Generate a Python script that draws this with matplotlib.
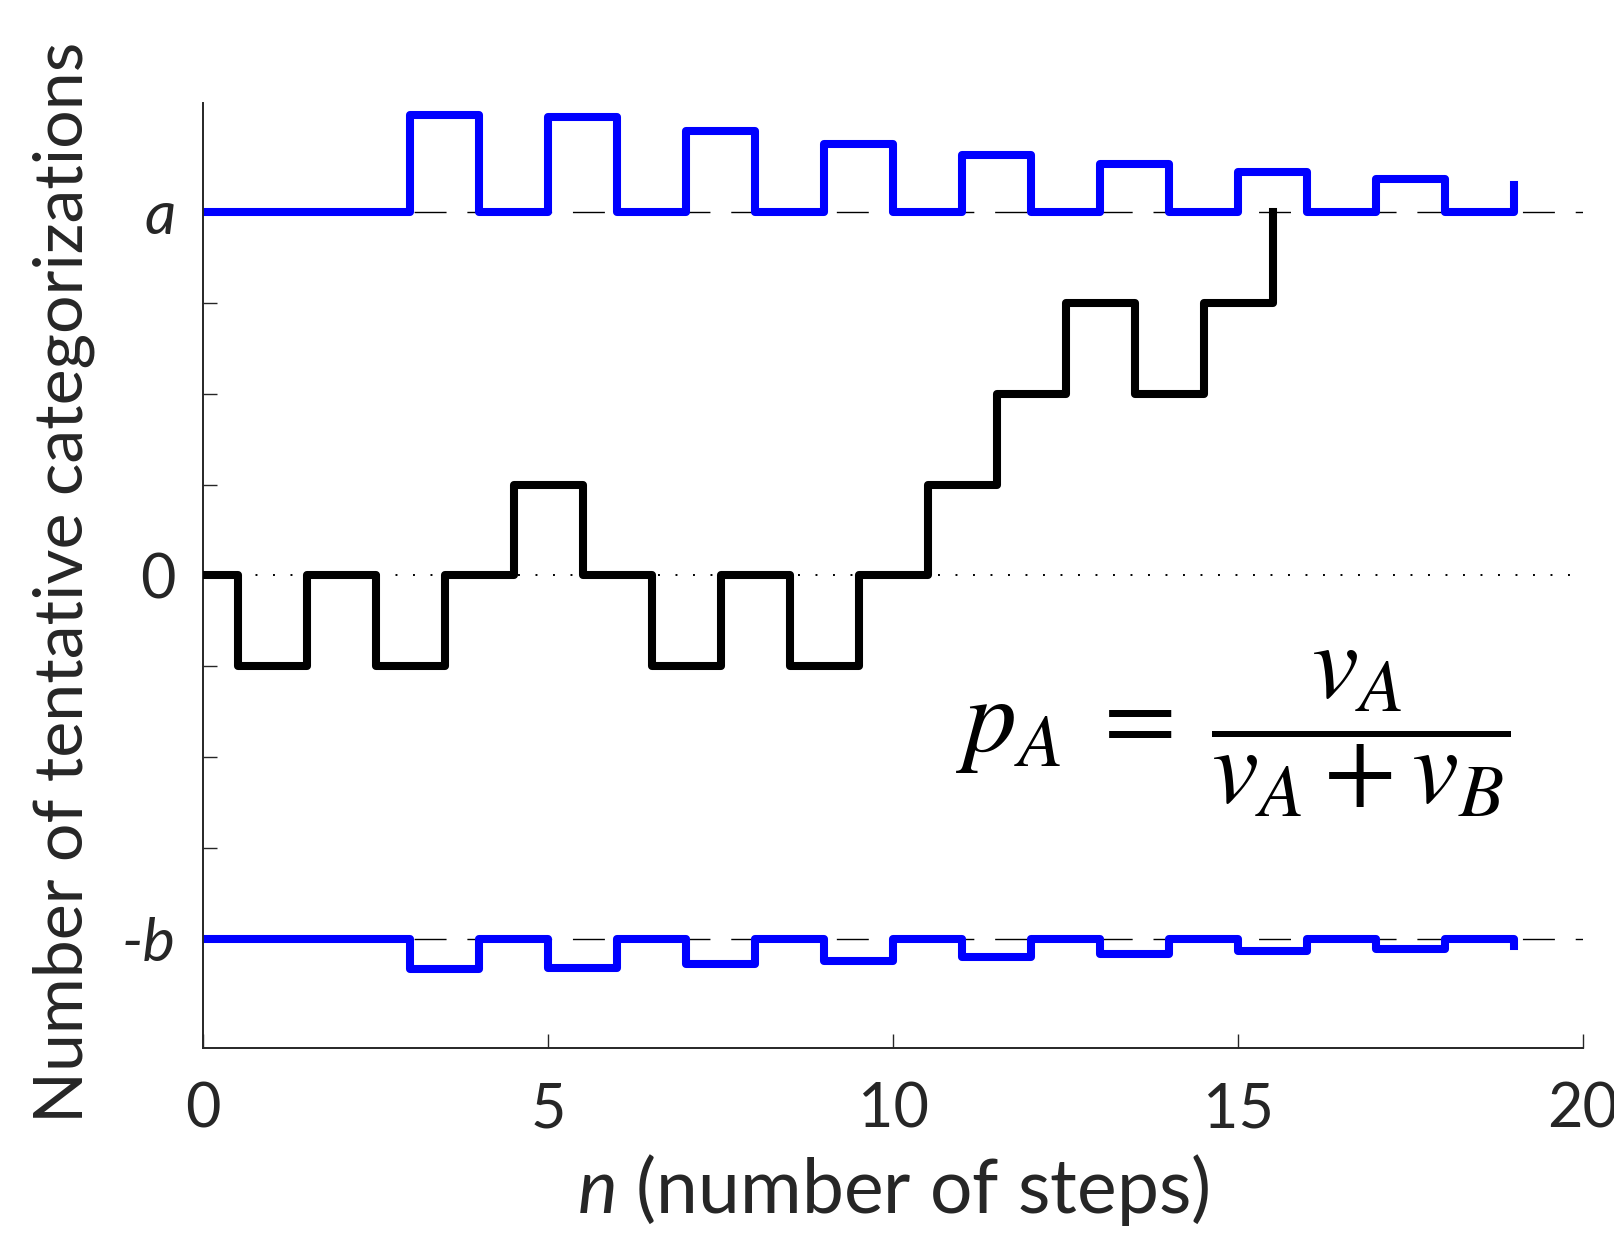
import numpy as np
import matplotlib
matplotlib.use("Agg")
from matplotlib import pyplot as plt

# step positions (n) and levels
n_walk = [0, 0.5, 1.5, 2.5, 3.5, 4.5, 5.5, 6.5, 7.5, 8.5, 9.5, 10.5, 11.5, 12.5, 13.5, 14.5, 15.5]
walk = [0, -1, 0, -1, 0, 1, 0, -1, 0, -1, 0, 1, 2, 3, 2, 3, 4]

n_bound = [0, 3, 4, 5, 6, 7, 8, 9, 10, 11, 12, 13, 14, 15, 16, 17, 18, 19]
upper = [4, 5.07, 4, 5.04, 4, 4.89, 4, 4.75, 4, 4.63, 4, 4.53, 4, 4.44, 4, 4.36, 4, 4.30]
lower = [-4, -4.33, -4, -4.32, -4, -4.28, -4, -4.24, -4, -4.20, -4, -4.17, -4, -4.14, -4, -4.11, -4, -4.08]

a, b = 4, 4
ytick_pos = [-4, -3, -2, -1, 0, 1, 2, 3, 4]
ytick_lab = ['-b', '', '', '', '0', '', '', '', 'a']
xtick_pos = [0, 5, 10, 15, 20]

plt.rcParams['font.family'] = ['Lato', 'DejaVu Sans']
plt.rcParams['mathtext.fontset'] = 'custom'
plt.rcParams['mathtext.rm'] = 'Lato'
plt.rcParams['mathtext.it'] = 'Lato:italic'

grey = '#262626'
fig = plt.figure(figsize=(16.15, 12.4), dpi=100)
ax = fig.add_axes([0.1257, 0.155, 0.8545, 0.762])

ax.axhline(a, color='k', lw=1.0, dashes=(23, 15), zorder=1)
ax.axhline(-b, color='k', lw=1.0, dashes=(23, 15), zorder=1)
ax.axhline(0, color='k', lw=1.4, dashes=(1, 8), zorder=1)

ax.step(n_walk, walk, where='post', color='k', lw=5.8, zorder=3)
ax.step(n_bound, upper, where='post', color=(0, 0, 1), lw=5.8, zorder=2)
ax.step(n_bound, lower, where='post', color=(0, 0, 1), lw=5.8, zorder=2)

ax.set_xlim(0, 20)
ax.set_ylim(-5.2, 5.2)
ax.set_xticks(xtick_pos)
ax.set_yticks(ytick_pos)
ax.set_yticklabels(ytick_lab)
for lbl in ax.get_yticklabels():
    if lbl.get_text() != '0':
        lbl.set_fontstyle('italic')
        lbl.set_fontsize(49)

for s in ['top', 'right']:
    ax.spines[s].set_visible(False)
for s in ['left', 'bottom']:
    ax.spines[s].set_color(grey)
    ax.spines[s].set_linewidth(1.4)
ax.tick_params(direction='in', length=10, width=1.0, colors=grey, labelsize=44)
ax.tick_params(axis='x', pad=24)
ax.tick_params(axis='y', pad=20)

ax.set_xlabel(r'$n$ (number of steps)', fontsize=54, color=grey, labelpad=10)
ax.set_ylabel('Number of tentative categorizations', fontsize=49, color=grey)
ax.yaxis.set_label_coords(-0.078, 0.493)

ax.text(14.93, -1.75, r'$p_A\;=\;\dfrac{v_A}{v_A + v_B}$', fontsize=76,
        math_fontfamily='stix', ha='center', va='center')

fig.savefig('out.png', dpi=100)
